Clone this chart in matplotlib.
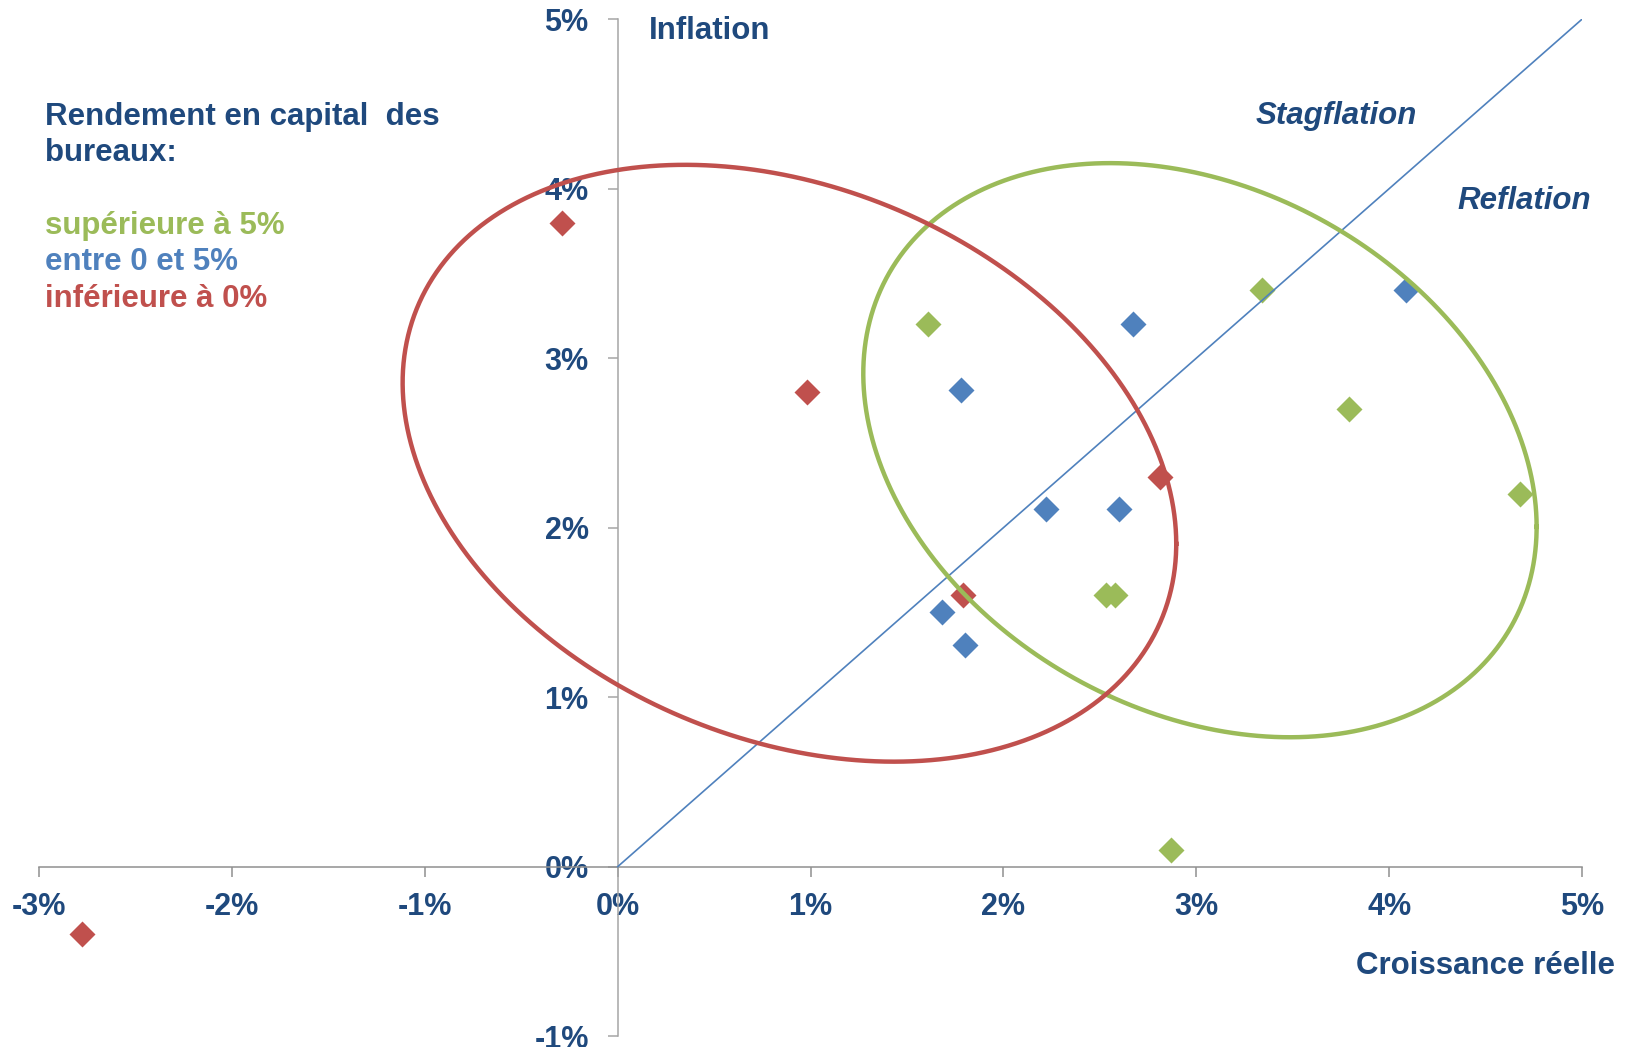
import matplotlib.pyplot as plt
import numpy as np

# growth (x, %) / inflation (y, %) per capital-return group
green_x = [1.61, 3.34, 3.79, 4.68, 2.53, 2.58, 2.87]
green_y = [3.20, 3.40, 2.70, 2.20, 1.60, 1.60, 0.10]
blue_x = [2.67, 1.78, 4.09, 2.22, 2.60, 1.68, 1.80]
blue_y = [3.20, 2.81, 3.40, 2.11, 2.11, 1.50, 1.31]
red_x = [-0.29, 0.98, 2.81, 1.79, -2.78]
red_y = [3.80, 2.80, 2.30, 1.60, -0.40]

x_ticks = [-3, -2, -1, 0, 1, 2, 3, 4, 5]
y_ticks = [-1, 0, 1, 2, 3, 4, 5]
diag_x = [0, 5]
diag_y = [0, 5]

# ellipses: centre, half-width, half-height, x-offset of top point (fraction of half-width)
red_ell = (0.89, 2.38, 2.006, 1.761, -0.270)
green_ell = (3.019, 2.457, 1.746, 1.694, -0.267)

GREEN = "#9BBB59"
BLUE = "#4F81BD"
RED = "#C0504D"
NAVY = "#1F497D"
FONT = ["Liberation Sans Narrow", "Liberation Sans", "DejaVu Sans"]
TXT = 22.5

plt.rcParams["font.family"] = FONT
plt.rcParams["font.weight"] = "bold"

fig = plt.figure(figsize=(16.26, 10.47), dpi=100)
ax = fig.add_axes([0.0242, 0.0105, 0.9487, 0.9711])
ax.set_xlim(-3, 5)
ax.set_ylim(-1, 5)

for s in ["top", "right"]:
    ax.spines[s].set_visible(False)
ax.spines["left"].set_position(("data", 0))
ax.spines["bottom"].set_position(("data", 0))
ax.spines["left"].set_color("#A6A6A6")
ax.spines["bottom"].set_color("#909090")
ax.spines["left"].set_linewidth(1.1)
ax.spines["bottom"].set_linewidth(1.1)

ax.set_xticks(x_ticks)
ax.set_xticklabels([f"{v}%" for v in x_ticks])
ax.set_yticks(y_ticks)
ax.set_yticklabels([f"{v}%" for v in y_ticks])
ax.tick_params(axis="x", direction="out", length=7, width=1.1, color="#909090",
               pad=11, labelsize=22, labelcolor=NAVY)
ax.tick_params(axis="y", direction="out", length=7, width=1.1, color="#A6A6A6",
               pad=14, labelsize=22, labelcolor=NAVY)

ax.plot(green_x, green_y, "D", color=GREEN, ms=13, mec="none", zorder=2)
ax.plot(blue_x, blue_y, "D", color=BLUE, ms=13, mec="none", zorder=2)
ax.plot(red_x, red_y, "D", color=RED, ms=13, mec="none", zorder=2)

ax.plot(diag_x, diag_y, color=BLUE, lw=1.2, zorder=3)

t = np.linspace(0, 2 * np.pi, 500)
for (cx, cy, w, h, c), col in [(green_ell, GREEN), (red_ell, RED)]:
    phi = np.arccos(c)
    ax.plot(cx + w * np.cos(t), cy + h * np.cos(t - phi), color=col, lw=3.2, zorder=4)

ax.text(0.16, 4.93, "Inflation", color=NAVY, fontsize=TXT, va="center", ha="left")
ax.text(3.31, 4.43, "Stagflation", color=NAVY, fontsize=TXT, style="italic",
        va="center", ha="left")
ax.text(4.355, 3.93, "Reflation", color=NAVY, fontsize=TXT, style="italic",
        va="center", ha="left")
ax.text(5.17, -0.589, "Croissance réelle", color=NAVY, fontsize=TXT,
        va="center", ha="right", clip_on=False)

lx = 44.6 / 1626
fig.text(lx, 1 - 117 / 1047, "Rendement en capital  des", color=NAVY,
         fontsize=TXT, va="center", ha="left")
fig.text(lx, 1 - 153 / 1047, "bureaux:", color=NAVY,
         fontsize=TXT, va="center", ha="left")
fig.text(lx, 1 - 226 / 1047, "supérieure à 5%", color=GREEN,
         fontsize=TXT, va="center", ha="left")
fig.text(lx, 1 - 262 / 1047, "entre 0 et 5%", color=BLUE,
         fontsize=TXT, va="center", ha="left")
fig.text(lx, 1 - 299 / 1047, "inférieure à 0%", color=RED,
         fontsize=TXT, va="center", ha="left")

fig.savefig("out.png", dpi=100)
